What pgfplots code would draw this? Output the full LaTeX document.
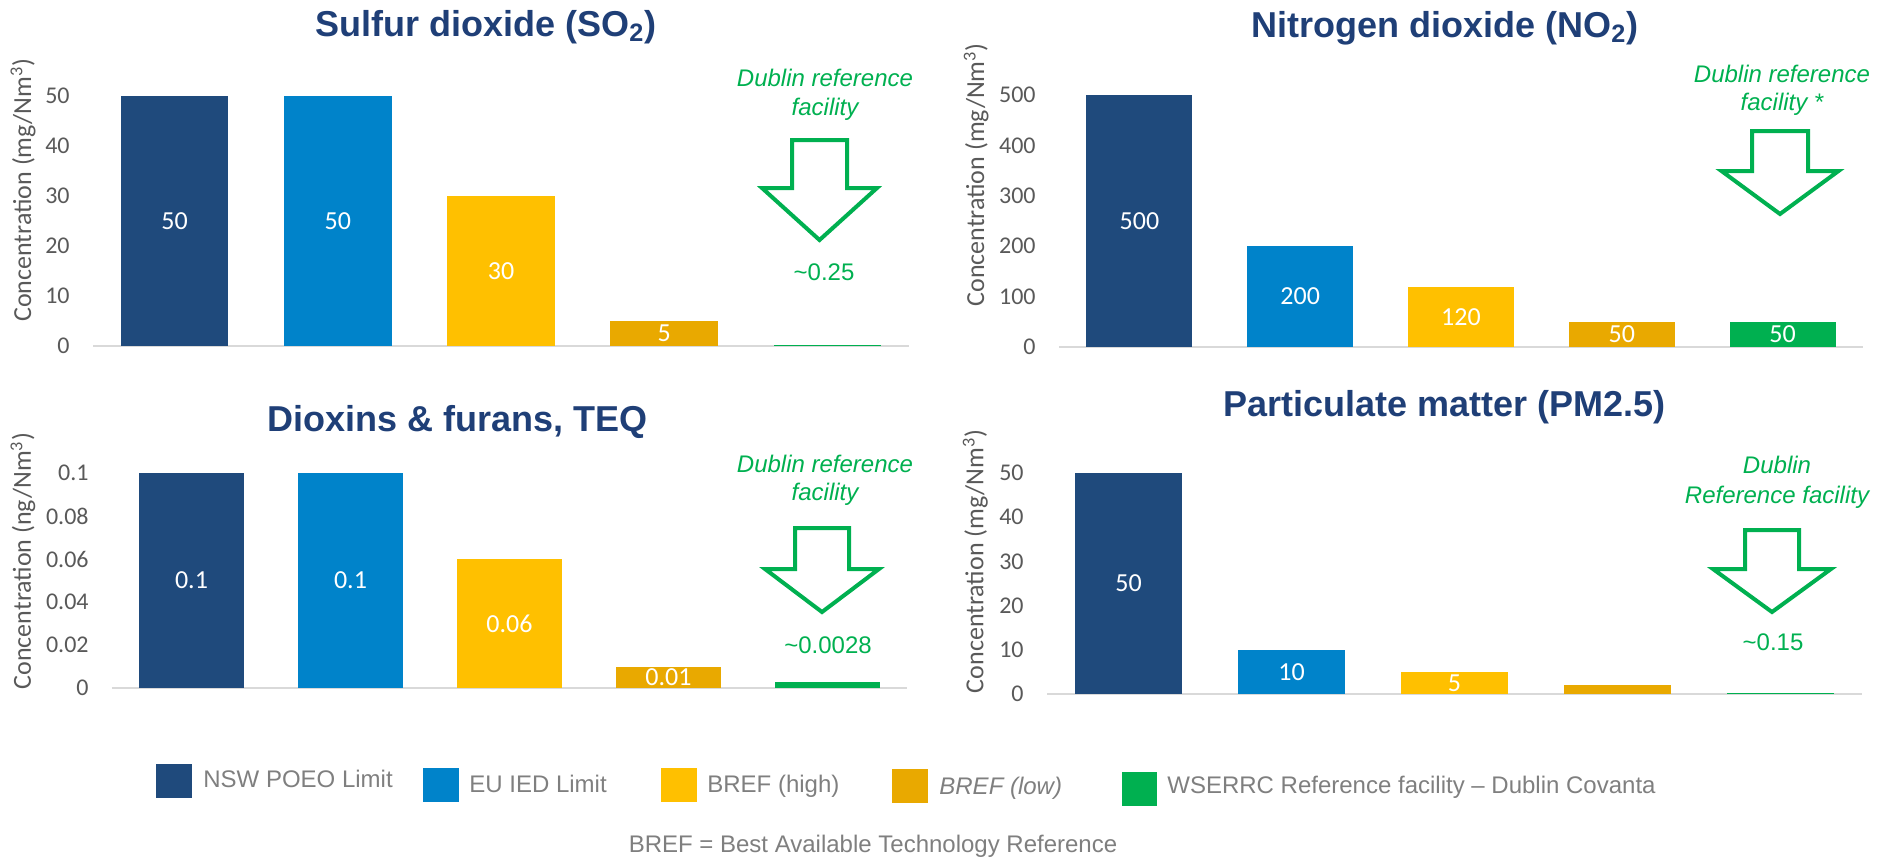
\documentclass[border=0pt]{standalone}
\usepackage{pgfplots}
\pgfplotsset{compat=1.18}
\usepackage{fontspec}
\setmainfont{Liberation Sans}
\newfontfamily\carlito{Carlito}

\definecolor{nsw}{HTML}{1F4A7C}
\definecolor{eu}{HTML}{0083CA}
\definecolor{brefhi}{HTML}{FFC000}
\definecolor{breflo}{HTML}{E9A900}
\definecolor{dublin}{HTML}{00B050}
\definecolor{titleblue}{HTML}{1F3F77}
\definecolor{ticktext}{HTML}{595959}
\definecolor{legtext}{HTML}{7F7F7F}
\definecolor{axisgray}{HTML}{D9D9D9}

\pgfplotsset{
  panel/.style={
    scale only axis, anchor=south west,
    xmin=-0.5, xmax=4.5, ymin=0,
    separate axis lines,
    axis x line*=bottom, axis y line*=left,
    axis line style={-},
    x axis line style={draw=axisgray, line width=1pt},
    y axis line style={draw=none},
    xtick=\empty, major tick length=0pt,
    scaled y ticks=false,
    /pgf/number format/assume math mode=true,
    yticklabel style={font=\carlito\fontsize{12}{14}\selectfont, text=ticktext,
      anchor=east, inner sep=0pt, xshift=-11.5pt},
    ylabel style={anchor=center, font=\carlito\fontsize{13}{15}\selectfont, text=ticktext},
    title style={anchor=base, yshift=-6pt, font=\bfseries\fontsize{18}{22}\selectfont, text=titleblue},
  },
  cbar/.style={ybar, bar width=0.66, bar shift=0pt, draw=none, fill=#1},
  lab/.style={
    nodes near coords={\pgfmathprintnumber[fixed,precision=3]{\pgfplotspointmeta}},
    visualization depends on=y \as \rawy,
    every node near coord/.append style={anchor=center, text=white,
      font=\carlito\fontsize{13}{15}\selectfont,
      shift={(axis direction cs:0,-\rawy/2)}},
  },
}

\newcommand\hollowarrow[6]{% cx, shaft top, wing y, tip y, shaft half, wing half
  \draw[dublin, line width=2pt, fill=white, line join=miter]
    (#1-#5,#2) -- (#1+#5,#2) -- (#1+#5,#3) -- (#1+#6,#3) -- (#1,#4)
    -- (#1-#6,#3) -- (#1-#5,#3) -- cycle;}

\begin{document}
\begin{tikzpicture}
\useasboundingbox (0,0) rectangle (943.5pt,-429pt);

% Sulfur dioxide
\begin{axis}[panel, at={(46.5pt,-173pt)}, width=408pt, height=125pt,
  ymax=50, ytick={0,10,...,50},
  title={Sulfur dioxide (SO\textsubscript{2})},
  title style={at={(axis description cs:0.4816,1.24)}},
  ylabel={Concentration (mg/Nm\textsuperscript{3})},
  ylabel style={at={(axis description cs:-0.0858,0.624)}}]
\addplot[cbar=nsw, lab] coordinates {(0,50)};
\addplot[cbar=eu, lab] coordinates {(1,50)};
\addplot[cbar=brefhi, lab] coordinates {(2,30)};
\addplot[cbar=breflo, lab] coordinates {(3,5)};
\addplot[cbar=dublin] coordinates {(4,0.25)};
\end{axis}

% Nitrogen dioxide
\begin{axis}[panel, at={(529.5pt,-173.5pt)}, width=402pt, height=126pt,
  ymax=500, ytick={0,100,...,500},
  title={Nitrogen dioxide (NO\textsubscript{2})},
  title style={at={(axis description cs:0.480,1.23)}},
  ylabel={Concentration (mg/Nm\textsuperscript{3})},
  ylabel style={at={(axis description cs:-0.103,0.683)}}]
\addplot[cbar=nsw, lab] coordinates {(0,500)};
\addplot[cbar=eu, lab] coordinates {(1,200)};
\addplot[cbar=brefhi, lab] coordinates {(2,120)};
\addplot[cbar=breflo, lab] coordinates {(3,50)};
\addplot[cbar=dublin, lab] coordinates {(4,50)};
\end{axis}

% Dioxins & furans
\begin{axis}[panel, at={(56pt,-344pt)}, width=397.5pt, height=107.5pt,
  ymax=0.1, ytick={0,0.02,0.04,0.06,0.08,0.1},
  yticklabel style={/pgf/number format/fixed, /pgf/number format/precision=2},
  title={Dioxins \& furans, TEQ},
  title style={at={(axis description cs:0.435,1.195)}},
  ylabel={Concentration (ng/Nm\textsuperscript{3})},
  ylabel style={at={(axis description cs:-0.112,0.59)}}]
\addplot[cbar=nsw, lab] coordinates {(0,0.1)};
\addplot[cbar=eu, lab] coordinates {(1,0.1)};
\addplot[cbar=brefhi, lab] coordinates {(2,0.06)};
\addplot[cbar=breflo, lab] coordinates {(3,0.01)};
\addplot[cbar=dublin] coordinates {(4,0.0028)};
\end{axis}

% Particulate matter
\begin{axis}[panel, at={(523.5pt,-347pt)}, width=407.5pt, height=110.5pt,
  ymax=50, ytick={0,10,...,50},
  title={Particulate matter (PM2.5)},
  title style={at={(axis description cs:0.488,1.258)}},
  ylabel={Concentration (mg/Nm\textsuperscript{3})},
  ylabel style={at={(axis description cs:-0.088,0.60)}}]
\addplot[cbar=nsw, lab] coordinates {(0,50)};
\addplot[cbar=eu, lab] coordinates {(1,10)};
\addplot[cbar=brefhi, lab] coordinates {(2,5)};
\addplot[cbar=breflo] coordinates {(3,2)};
\addplot[cbar=dublin] coordinates {(4,0.15)};
\end{axis}

% annotations and legend, in pixel units of the reference
\begin{scope}[x=0.5pt, y=-0.5pt,
  gtxt/.style={text=dublin, inner sep=0pt, font=\fontsize{12}{14}\selectfont},
  ltxt/.style={text=legtext, inner sep=0pt, anchor=base west, font=\fontsize{12}{14}\selectfont}]
\hollowarrow{819.5}{140}{188}{240}{27.5}{57.5}
\node[gtxt, anchor=base, font=\itshape\fontsize{12}{14}\selectfont] at (825,86) {Dublin reference};
\node[gtxt, anchor=base, font=\itshape\fontsize{12}{14}\selectfont] at (825,115) {facility};
\node[gtxt] at (824,272) {\textasciitilde0.25};

\hollowarrow{1780}{131}{171}{214}{28}{58.5}
\node[gtxt, anchor=base, font=\itshape\fontsize{12}{14}\selectfont] at (1782,82) {Dublin reference};
\node[gtxt, anchor=base, font=\itshape\fontsize{12}{14}\selectfont] at (1782,110) {facility *};

\hollowarrow{822}{528}{569}{612}{27}{57}
\node[gtxt, anchor=base, font=\itshape\fontsize{12}{14}\selectfont] at (825,472) {Dublin reference};
\node[gtxt, anchor=base, font=\itshape\fontsize{12}{14}\selectfont] at (825,500) {facility};
\node[gtxt] at (828,645) {\textasciitilde0.0028};

\hollowarrow{1772}{530}{569}{612}{27}{59}
\node[gtxt, anchor=base, font=\itshape\fontsize{12}{14}\selectfont] at (1777,473) {Dublin};
\node[gtxt, anchor=base, font=\itshape\fontsize{12}{14}\selectfont] at (1777,503) {Reference facility};
\node[gtxt] at (1773,642) {\textasciitilde0.15};

\fill[nsw] (156,764) rectangle (192,798);
\node[ltxt] at (203,787) {NSW POEO Limit};
\fill[eu] (423,768) rectangle (459,802);
\node[ltxt] at (469,792) {EU IED Limit};
\fill[brefhi] (661,768) rectangle (697,802);
\node[ltxt] at (707,792) {BREF (high)};
\fill[breflo] (892,769) rectangle (928,803);
\node[ltxt, font=\itshape\fontsize{12}{14}\selectfont] at (939,794) {BREF (low)};
\fill[dublin] (1122,772) rectangle (1157,806);
\node[ltxt] at (1167,793) {WSERRC Reference facility -- Dublin Covanta};
\node[ltxt, anchor=base] at (873,852) {BREF = Best Available Technology Reference};
\end{scope}
\end{tikzpicture}
\end{document}
